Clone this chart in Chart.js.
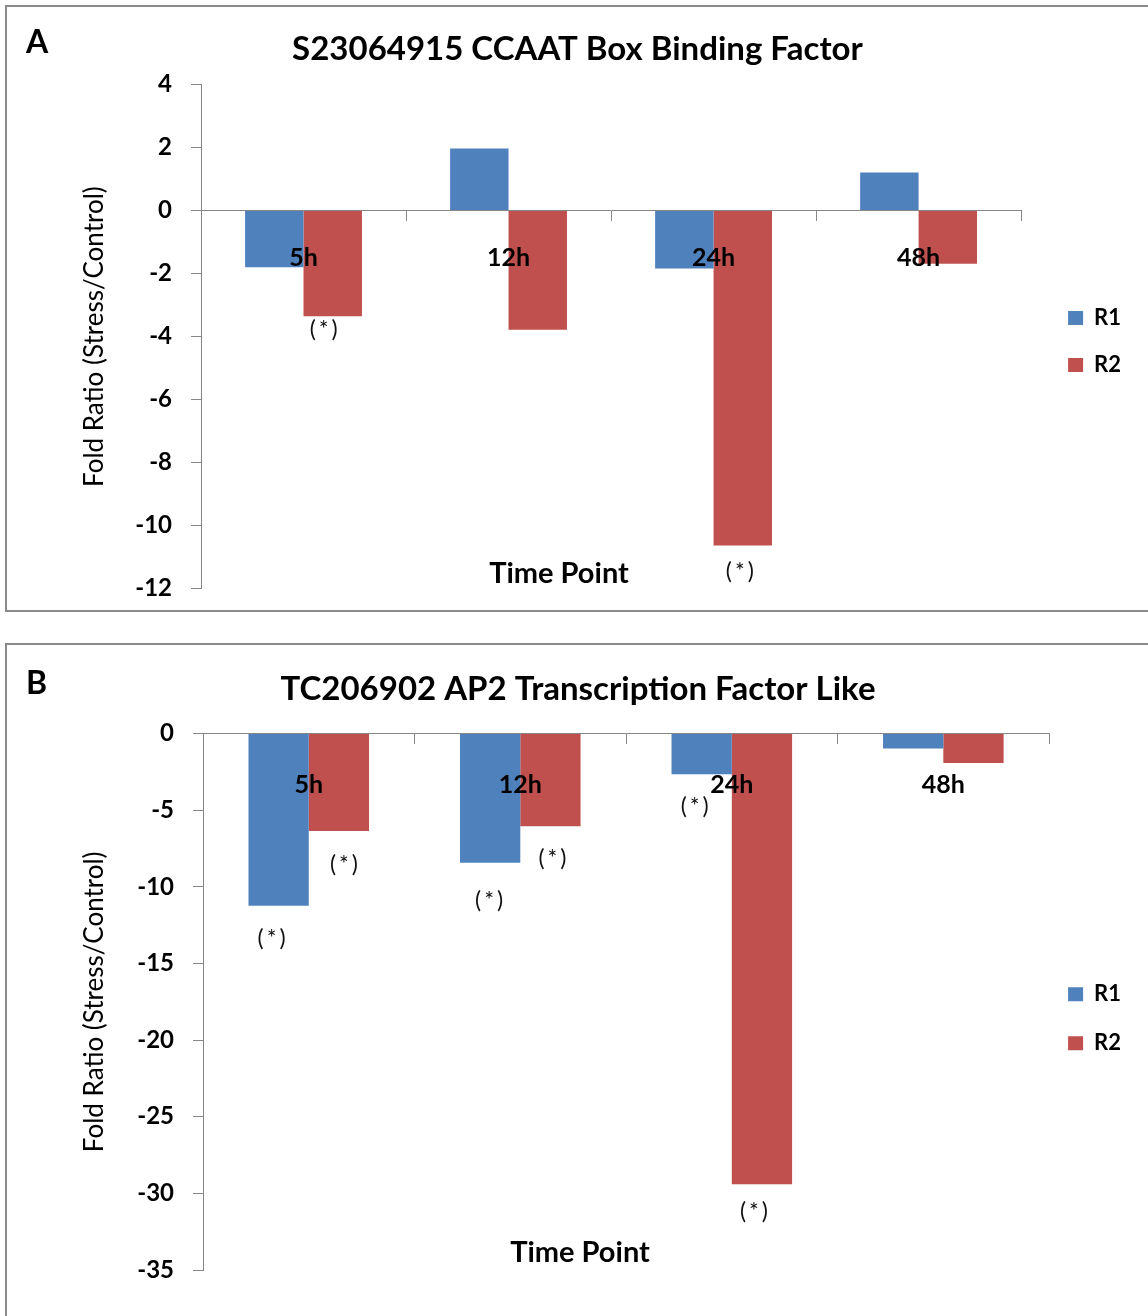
<!DOCTYPE html>
<html>
<head>
<meta charset="utf-8">
<script src="https://cdn.jsdelivr.net/npm/chart.js@4.4.1/dist/chart.umd.min.js"></script>
<style>
  body { margin: 0; background: #fff; width: 1148px; height: 1316px; position: relative; overflow: hidden; font-family: Lato, sans-serif; }
  .panel { position: absolute; border: 2px solid #8a8a8a; background: #fff; }
  #panelA { left: 5px; top: 5px; width: 1170px; height: 603px; }
  #panelB { left: 5px; top: 643px; width: 1170px; height: 700px; }
  canvas { position: absolute; left: 0; top: 0; }
  .letter { position: absolute; font-weight: bold; font-size: 32px; color: #000; }
  .axisTitle { position: absolute; font-weight: bold; font-size: 29px; color: #000; transform: translate(-50%, -50%); white-space: nowrap; }
</style>
</head>
<body>
<div class="panel" id="panelA"><canvas id="chartA" width="1141" height="615"></canvas></div>
<div class="panel" id="panelB"><canvas id="chartB" width="1141" height="671"></canvas></div>
<div class="letter" style="left:26px;top:21px">A</div>
<div class="letter" style="left:26px;top:662px">B</div>
<div class="axisTitle" style="left:559px;top:571px">Time Point</div>
<div class="axisTitle" style="left:580px;top:1250px">Time Point</div>
<script>
const timePoints = ['5h', '12h', '24h', '48h'];

// S23064915 CCAAT Box Binding Factor
const ccaatR1 = [-1.8, 1.97, -1.84, 1.21];
const ccaatR2 = [-3.35, -3.78, -10.63, -1.69];
const ccaatStarR1 = [false, false, false, false];
const ccaatStarR2 = [true, false, true, false];

// TC206902 AP2 Transcription Factor Like
const ap2R1 = [-11.23, -8.43, -2.66, -0.98];
const ap2R2 = [-6.36, -6.04, -29.41, -1.92];
const ap2StarR1 = [true, true, true, false];
const ap2StarR2 = [true, true, true, false];

const axisGray = '#868686';

// draws "(*)" under the bars flagged as significant
const starLabels = {
  id: 'starLabels',
  afterDatasetsDraw(chart, args, opts) {
    const ctx = chart.ctx;
    ctx.save();
    ctx.font = '23px Lato';
    ctx.letterSpacing = '3px';
    ctx.fillStyle = '#111';
    ctx.textAlign = 'center';
    ctx.textBaseline = 'middle';
    opts.flags.forEach((flags, di) => {
      chart.getDatasetMeta(di).data.forEach((bar, i) => {
        if (!flags[i]) return;
        const [dx, dy] = opts.nudge[di][i];
        ctx.fillText('(*)', bar.x + dx + 1.5, bar.y + dy);
      });
    });
    ctx.restore();
  }
};

// moves the legend box after layout so it sits where Excel put it
const legendNudge = {
  id: 'legendNudge',
  afterLayout(chart, args, opts) {
    const lg = chart.legend;
    lg.left += opts.dx; lg.right += opts.dx;
    lg.top += opts.dy; lg.bottom += opts.dy;
  }
};

function makeChart(id, title, r1, r2, stars, yMin, yMax, step, o) {
  return new Chart(document.getElementById(id), {
    type: 'bar',
    data: {
      labels: timePoints,
      datasets: [
        { label: 'R1', data: r1, backgroundColor: '#4F81BD' },
        { label: 'R2', data: r2, backgroundColor: '#C0504D' }
      ]
    },
    options: {
      responsive: false,
      animation: false,
      categoryPercentage: 0.57,
      barPercentage: 1,
      layout: { padding: { left: o.padLeft, right: o.padRight, top: 0, bottom: o.padBottom } },
      plugins: {
        title: {
          display: true, text: title, color: '#000',
          font: { family: 'Lato', size: 33, weight: 'bold' },
          padding: { top: o.titleTop, bottom: o.titleBottom }
        },
        legend: {
          position: 'right', fullSize: false,
          labels: { boxWidth: 15, boxHeight: 14, padding: o.legendGap, color: '#000', font: { family: 'Lato', size: 22, weight: 'bold' } }
        },
        tooltip: { enabled: false },
        starLabels: { flags: stars, nudge: o.starNudge },
        legendNudge: { dx: o.legendDx, dy: o.legendDy }
      },
      scales: {
        x: {
          position: { y: 0 },
          grid: { offset: true, drawOnChartArea: false, tickLength: 10, color: axisGray },
          border: { color: axisGray },
          ticks: { z: 1, padding: o.labelPad, color: '#000', font: { family: 'Lato', size: 25, weight: 'bold' } }
        },
        y: {
          min: yMin, max: yMax,
          ticks: { stepSize: step, padding: 19, color: '#000', font: { family: 'Lato', size: 24, weight: 'bold' } },
          grid: { drawOnChartArea: false, tickLength: 10, color: axisGray },
          border: { color: axisGray },
          title: {
            display: true, text: 'Fold Ratio (Stress/Control)', color: '#000',
            font: { family: 'Lato', size: 26 }, padding: { top: o.yTitlePad }
          },
          afterFit: (s) => { s.width = o.yWidth; }
        }
      }
    },
    plugins: [starLabels, legendNudge]
  });
}

makeChart('chartA', 'S23064915 CCAAT Box Binding Factor', ccaatR1, ccaatR2, [ccaatStarR1, ccaatStarR2], -12, 4, 2, {
  padLeft: 39, padRight: 39, padBottom: 14, titleTop: 23, titleBottom: 15,
  labelPad: 22, yWidth: 155, yTitlePad: 33, legendGap: 25, legendDx: 22, legendDy: 5,
  starNudge: [[], [[-9, 13], null, [-3, 26], null]]
});
makeChart('chartB', 'TC206902 AP2 Transcription Factor Like', ap2R1, ap2R2, [ap2StarR1, ap2StarR2], -35, 0, 5, {
  padLeft: 10, padRight: 9, padBottom: 46, titleTop: 25, titleBottom: 24,
  labelPad: 26, yWidth: 186, yTitlePad: 62, legendGap: 27, legendDx: -8, legendDy: 17,
  starNudge: [[[-7, 33], [-1, 38], [-7, 32], null], [[5, 34], [2, 32], [-8, 27], null]]
});
</script>
</body>
</html>
